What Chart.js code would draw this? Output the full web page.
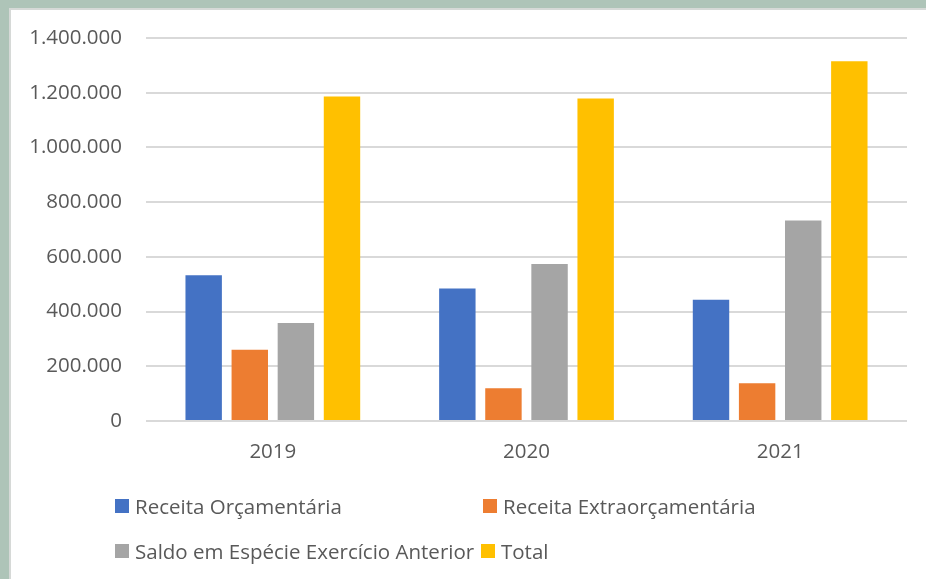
<!DOCTYPE html>
<html>
<head>
<meta charset="utf-8">
<script src="https://cdn.jsdelivr.net/npm/chart.js@4"></script>
<style>
  html, body { margin: 0; padding: 0; }
  body {
    width: 926px; height: 579px; overflow: hidden; position: relative;
    background: #aec4b8;
    font-family: "Open Sans", sans-serif;
  }
  #panel {
    position: absolute; left: 9px; top: 8px; right: -4px; bottom: -4px;
    background: #ffffff;
    border-top: 2px solid #d6d9d7; border-left: 2px solid #d6d9d7;
  }
  #wrap { position: absolute; left: 0; top: 0; width: 926px; height: 579px; }
  #legend { position: absolute; left: 0; top: 0; width: 926px; height: 579px; pointer-events: none; }
  .item {
    position: absolute; display: flex; align-items: center;
    height: 24px; line-height: 24px;
    font-size: 20.5px; color: #595959; white-space: nowrap;
  }
  .sw { width: 14px; height: 14px; margin-right: 6px; flex: none; }
</style>
</head>
<body>
<div id="panel"></div>
<div id="wrap"><canvas id="chart" width="926" height="579"></canvas></div>
<div id="legend"></div>
<script>
// Years on the category axis
const categories = ['2019', '2020', '2021'];

// Series values (R$)
const receitaOrcamentaria = [533000, 484000, 443000];
const receitaExtraorcamentaria = [260000, 120000, 138000];
const saldoExercicioAnterior = [358000, 574000, 733000];
const totalGeral = [1186000, 1179000, 1315000];

const seriesNames = [
  'Receita Orçamentária',
  'Receita Extraorçamentária',
  'Saldo em Espécie Exercício Anterior',
  'Total'
];
const seriesColors = ['#4472C4', '#ED7D31', '#A5A5A5', '#FFC000'];

// Value axis ticks
const yTicks = [0, 200000, 400000, 600000, 800000, 1000000, 1200000, 1400000];

function fmtThousands(v) {
  return String(Math.round(v)).replace(/\B(?=(\d{3})+(?!\d))/g, '.');
}

const seriesData = [receitaOrcamentaria, receitaExtraorcamentaria, saldoExercicioAnterior, totalGeral];

const textColor = '#595959';
const font = { family: '"Open Sans", sans-serif', size: 20.5 };

new Chart(document.getElementById('chart'), {
  type: 'bar',
  data: {
    labels: categories,
    datasets: seriesData.map((d, i) => ({
      label: seriesNames[i],
      data: d,
      backgroundColor: seriesColors[i],
      borderWidth: 0,
      categoryPercentage: 0.727,
      barPercentage: 0.79
    }))
  },
  options: {
    responsive: false,
    animation: false,
    events: [],
    layout: { padding: { left: 0, right: 19, top: 38, bottom: 0 } },
    plugins: {
      legend: { display: false },
      tooltip: { enabled: false },
      title: { display: false }
    },
    scales: {
      x: {
        grid: { display: false, drawTicks: false },
        border: { display: false },
        ticks: { color: textColor, font: font, padding: 19, maxRotation: 0 },
        afterFit: (s) => { s.height = 158; }
      },
      y: {
        min: 0,
        max: 1400000,
        afterBuildTicks: (s) => { s.ticks = yTicks.map(v => ({ value: v })); },
        grid: { color: '#d9d9d9', lineWidth: 2, drawTicks: false },
        border: { display: false },
        ticks: {
          color: textColor, font: font, padding: 24,
          callback: (v) => fmtThousands(v)
        },
        afterFit: (s) => { s.width = 146; }
      }
    }
  }
});

// Legend laid out in two columns below the plot
const legendPos = [
  { left: 115, top: 494 },
  { left: 483, top: 494 },
  { left: 115, top: 539 },
  { left: 481, top: 539 }
];
const legendEl = document.getElementById('legend');
seriesNames.forEach((name, i) => {
  const item = document.createElement('div');
  item.className = 'item';
  item.style.left = legendPos[i].left + 'px';
  item.style.top = legendPos[i].top + 'px';
  const sw = document.createElement('span');
  sw.className = 'sw';
  sw.style.background = seriesColors[i];
  const label = document.createElement('span');
  label.textContent = name;
  item.appendChild(sw);
  item.appendChild(label);
  legendEl.appendChild(item);
});
</script>
</body>
</html>
